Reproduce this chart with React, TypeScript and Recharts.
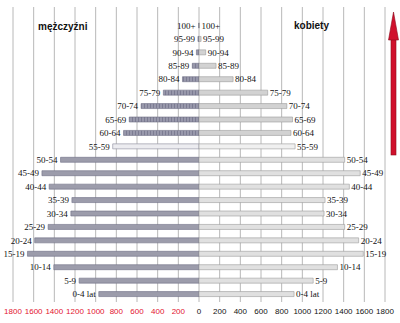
import React from 'react';
import { BarChart, Bar, XAxis, YAxis, CartesianGrid, Cell, LabelList } from 'recharts';

const ageGroups = ['100+', '95-99', '90-94', '85-89', '80-84', '75-79', '70-74', '65-69', '60-64', '55-59', '50-54', '45-49', '40-44', '35-39', '30-34', '25-29', '20-24', '15-19', '10-14', '5-9', '0-4 lat'];
const maleValues = [3, 10, 25, 65, 160, 345, 560, 675, 730, 835, 1340, 1520, 1450, 1230, 1240, 1460, 1590, 1660, 1405, 1160, 970];
const femaleValues = [5, 20, 65, 165, 330, 665, 850, 905, 890, 930, 1410, 1560, 1455, 1220, 1210, 1410, 1545, 1590, 1340, 1105, 920];
const xTicks = [-1800, -1600, -1400, -1200, -1000, -800, -600, -400, -200, 0, 200, 400, 600, 800, 1000, 1200, 1400, 1600, 1800];
const maleTitle = 'mężczyźni';
const femaleTitle = 'kobiety';

const data = ageGroups.map((age, i) => ({ age, male: -maleValues[i], female: femaleValues[i] }));

const maleFill = (age: string) => {
  if (age === '55-59') return '#ececf0';
  const idx = ageGroups.indexOf(age);
  if (idx < 9) return 'url(#hatchMale)';
  return '#9c9cab';
};
const femaleFill = (age: string) => {
  if (age === '55-59') return '#f0f0f0';
  const idx = ageGroups.indexOf(age);
  if (idx < 9) return '#d2d2d2';
  return '#e0e0e0';
};

const MaleLabel = (props: any) => {
  const { x, y, width, height, index } = props;
  const left = Math.min(x, x + width);
  return (
    <text x={left - 3} y={y + height / 2} dy="0.35em" textAnchor="end" fontFamily="'Liberation Serif', serif" fontSize={9} fill="#111">
      {ageGroups[index]}
    </text>
  );
};
const FemaleLabel = (props: any) => {
  const { x, y, width, height, index } = props;
  const right = Math.max(x, x + width);
  return (
    <text x={right + 2} y={y + height / 2} dy="0.35em" textAnchor="start" fontFamily="'Liberation Serif', serif" fontSize={9} fill="#111">
      {ageGroups[index]}
    </text>
  );
};

const XTick = (props: any) => {
  const { x, y, payload } = props;
  const v = payload.value as number;
  return (
    <text x={x} y={y + 10} textAnchor="middle" fontFamily="'Liberation Sans', Arial, sans-serif" fontSize={8} fill={v < 0 ? '#e3122f' : '#111'}>
      {Math.abs(v)}
    </text>
  );
};

export default function App() {
  return (
    <div style={{ position: 'absolute', left: 0, top: 0, width: 400, height: 323, background: '#fff' }}>
      <svg width={0} height={0} style={{ position: 'absolute' }}>
        <defs>
          <pattern id="hatchMale" patternUnits="userSpaceOnUse" width={3} height={6}>
            <rect x={0} y={0} width={3} height={6} fill="#7c7c92" />
            <rect x={1.5} y={0} width={1} height={6} fill="#b4b4c4" />
          </pattern>
        </defs>
      </svg>
      <BarChart
        width={400}
        height={323}
        data={data}
        layout="vertical"
        stackOffset="sign"
        margin={{ top: 7, right: 15, bottom: 0, left: 13 }}
      >
        <CartesianGrid horizontal={false} stroke="#b8b8b8" strokeWidth={1} />
        <XAxis
          type="number"
          dataKey="female"
          domain={[-1800, 1800]}
          ticks={xTicks}
          interval={0}
          allowDataOverflow
          axisLine={false}
          tickLine={false}
          tickSize={0}
          tickMargin={2}
          height={21}
          tick={<XTick />}
        />
        <XAxis xAxisId="top" orientation="top" type="number" domain={[-1800, 1800]} height={0} tick={false} tickLine={false} axisLine={{ stroke: '#b8b8b8' }} />
        <YAxis type="category" dataKey="age" hide padding={{ top: 12, bottom: 1 }} />
        <Bar dataKey="male" stackId="a" barSize={5} isAnimationActive={false} stroke="#6e6e84" strokeWidth={0.6}>
          {data.map((d) => (
            <Cell key={d.age} fill={maleFill(d.age)} stroke={d.age === '55-59' ? '#8a8a9a' : '#6e6e84'} />
          ))}
          <LabelList dataKey="male" content={<MaleLabel />} />
        </Bar>
        <Bar dataKey="female" stackId="a" barSize={5} isAnimationActive={false} stroke="#9a9a9a" strokeWidth={0.6}>
          {data.map((d) => (
            <Cell key={d.age} fill={femaleFill(d.age)} />
          ))}
          <LabelList dataKey="female" content={<FemaleLabel />} />
        </Bar>
        <text x={38} y={30} fontFamily="'Liberation Sans', Arial, sans-serif" fontWeight="bold" fontSize={10} fill="#111">{maleTitle}</text>
        <text x={294} y={29} fontFamily="'Liberation Sans', Arial, sans-serif" fontWeight="bold" fontSize={10} fill="#111">{femaleTitle}</text>
      </BarChart>
      <svg width={400} height={323} style={{ position: 'absolute', left: 0, top: 0, pointerEvents: 'none' }}>
        <rect x={391} y={38} width={5} height={117} fill="#d0102c" stroke="#8c0a1c" strokeWidth={0.6} />
        <polygon points="393.5,12 388.5,40 398.5,40" fill="#d0102c" stroke="#8c0a1c" strokeWidth={0.6} />
      </svg>
    </div>
  );
}
